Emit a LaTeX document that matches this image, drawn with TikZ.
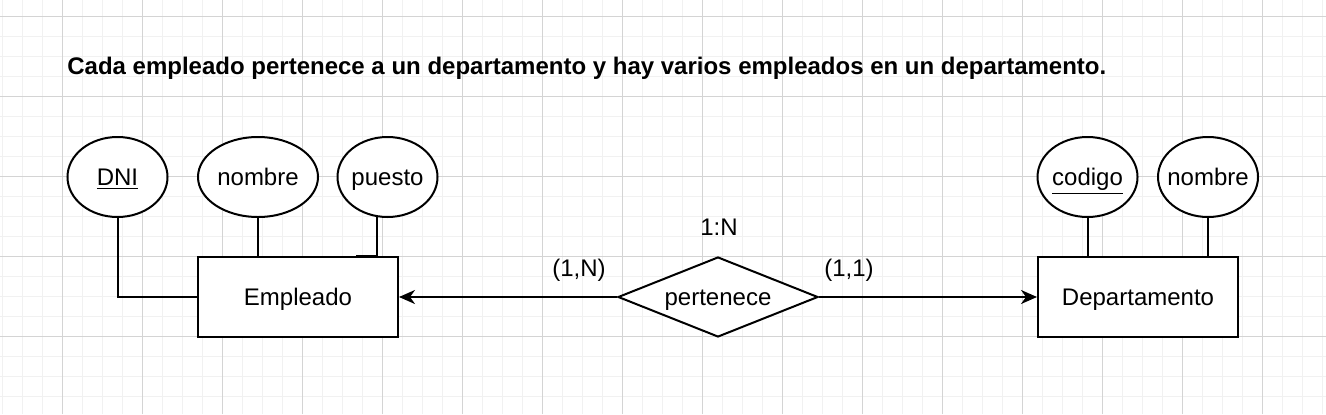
\documentclass[tikz,border=0pt,12pt]{standalone}
\usepackage{fontspec}
\setmainfont{Liberation Sans}
\usepackage{tikz}
\usetikzlibrary{calc}
\usetikzlibrary{arrows.meta}
\usetikzlibrary{shapes.geometric}
\definecolor{gridfaint}{RGB}{241, 241, 241}
\definecolor{gridstrong}{RGB}{212, 212, 212}

\begin{document}
\begin{tikzpicture}[x=10pt, y=10pt, font=\fontsize{12}{14.4}\selectfont,
        entity/.style={draw, fill=white, line width=1pt, minimum width=100pt, minimum height=40pt,
                       inner sep=0pt, text height=8.6pt, text depth=0pt},
        attrib/.style={ellipse, draw, fill=white, line width=1pt, minimum height=40pt,
                       inner ysep=0pt, inner xsep=-8pt, text height=8.6pt, text depth=0pt},
        relation/.style={diamond, draw, fill=white, line width=1pt, aspect=2.5, minimum width=100pt,
                       minimum height=40pt, inner sep=0pt, text height=8.6pt, text depth=0pt},
        link/.style={line width=1pt},
        arrowlink/.style={line width=1pt, -{Stealth[length=8pt, width=7pt, inset=2.5pt]}},
        card/.style={anchor=base, inner sep=0pt}]
            % canvas grid
            \useasboundingbox                                         (0.00, 0.00) rectangle (66.30,20.70);
            \fill[white]                                              (0.00, 0.00) rectangle (66.30,20.70);
            \foreach \gx in {0,...,66}
                \draw[gridfaint, line width=0.5pt]                    (\gx+0.1, 0.00) -- (\gx+0.1,20.70);
            \foreach \gy in {0,...,19}
                \draw[gridfaint, line width=0.5pt]                    (0.00,\gy+0.9) -- (66.30,\gy+0.9);
            \foreach \gx in {0,...,15}
                \draw[gridstrong, line width=0.5pt]                   (4*\gx+3.1, 0.00) -- (4*\gx+3.1,20.70);
            \foreach \gy in {0,...,4}
                \draw[gridstrong, line width=0.5pt]                   (0.00,4*\gy+3.9) -- (66.30,4*\gy+3.9);

            \node[anchor=base west, inner sep=0pt, font=\fontsize{12}{14.4}\selectfont\bfseries] (enunciado) at ( 3.35,17.00)
                 {Cada empleado pertenece a un departamento y hay varios empleados en un departamento.};

            % entities and relation
            \node[entity]                     (empleado)     at (14.90, 5.85) {Empleado};
            \node[entity]                     (departamento) at (56.90, 5.85) {Departamento};
            \node[relation]                   (pertenece)    at (35.90, 5.85) {pertenece};

            % attributes
            \node[attrib, minimum width=50pt] (dni)          at ( 5.875,11.85) {\underline{DNI}};
            \node[attrib, minimum width=60pt] (nombreE)      at (12.90,11.85) {nombre};
            \node[attrib, minimum width=50pt] (puesto)       at (19.375,11.85) {puesto};
            \node[attrib, minimum width=50pt] (codigo)       at (54.375,11.85) {\underline{codigo}};
            \node[attrib, minimum width=50pt] (nombreD)      at (60.40,11.85) {nombre};

            % cardinalities
            \node[card] (tipo)  at (35.95, 8.95) {1:N};
            \node[card] (cardE) at (28.95, 6.90) {(1,N)};
            \node[card] (cardD) at (42.45, 6.90) {(1,1)};

            % connectors
            \draw[link] (dni.south) |- (empleado.west);
            \draw[link] (nombreE.south) -- (nombreE.south |- empleado.north);
            \draw[link] (puesto.256) -- (puesto.256 |- empleado.north) -- ++(-10.5pt,0);
            \draw[link] (codigo.south) -- (codigo.south |- departamento.north);
            \draw[link] (nombreD.south) -- (nombreD.south |- departamento.north);
            \draw[arrowlink] (pertenece.west) -- (empleado.east);
            \draw[arrowlink] (pertenece.east) -- (departamento.west);
        \end{tikzpicture}
\end{document}
